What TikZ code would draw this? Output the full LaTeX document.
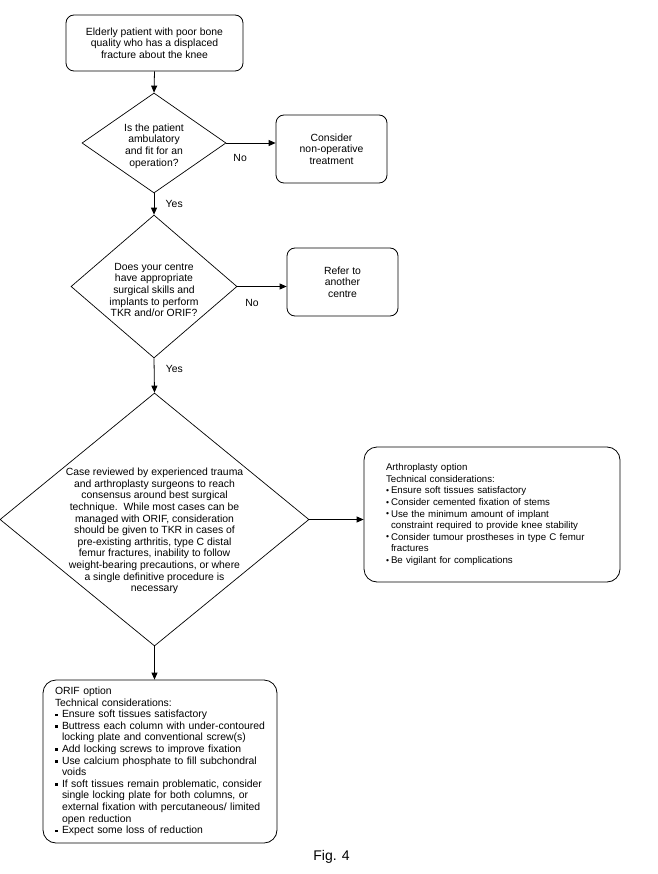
\documentclass[tikz,border=0pt]{standalone}
\usepackage{fontspec}
\setmainfont{Liberation Sans}
\usetikzlibrary{arrows.meta, positioning, shapes.geometric}

\newcommand{\bul}{\makebox[5pt][l]{\raisebox{0.3pt}{\fontsize{8.5}{8.5}\selectfont\textbullet}}}
\newcommand{\sqbul}{\makebox[7pt][l]{\rule[1.6pt]{2.6pt}{2.6pt}}}

\begin{document}
\begin{tikzpicture}[
  x=1pt, y=-1pt,
  every node/.style={font=\fontsize{10.4}{11.6}\selectfont},
  box/.style={rectangle, draw, rounded corners=8pt, line width=0.8pt, align=center, inner sep=0pt},
  bigbox/.style={rectangle, draw, rounded corners=13pt, line width=0.8pt, align=left},
  decision/.style={diamond, draw, line width=0.7pt, align=center, inner sep=0pt},
  flow/.style={line width=0.8pt, -{Triangle[length=7pt, width=6pt]}},
]
\useasboundingbox (0,0) rectangle (657,874);

\node[box, minimum width=177pt, minimum height=56pt] (start) at (154.5,43) {Elderly patient with poor bone\\quality who has a displaced\\fracture about the knee};
\node[decision, minimum width=144pt, minimum height=100pt, aspect=1.44] (fit) at (154,143) {};
\node[align=center] (fittxt) at (154,146) {Is the patient\\ambulatory\\and fit for an\\operation?};
\node[box, minimum width=111pt, minimum height=68pt] (nonop) at (331.5,149) {Consider\\non-operative\\treatment};
\node[decision, minimum width=166pt, minimum height=143pt, aspect=1.16] (skills) at (154,286.5) {};
\node[align=center] (skillstxt) at (154,290) {Does your centre\\have appropriate\\surgical skills and\\implants to perform\\TKR and/or ORIF?};
\node[box, minimum width=111pt, minimum height=68pt] (refer) at (342.5,282) {Refer to\\another\\centre};
\node[decision, minimum width=309pt, minimum height=253pt] (review) at (154.5,519.5) {};
\node[align=center] (reviewtxt) at (154.5,531) {Case reviewed by experienced trauma\\and arthroplasty surgeons to reach\\consensus around best surgical\\technique.\ \ While most cases can be\\managed with ORIF, consideration\\should be given to TKR in cases of\\pre-existing arthritis, type C distal\\femur fractures, inability to follow\\weight-bearing precautions, or where\\a single definitive procedure is\\necessary};
\node[bigbox, minimum width=256pt, minimum height=135pt, text width=212pt, inner xsep=22pt,
  font=\fontsize{9.7}{11.6}\selectfont] (arth) at (492,514.5) {Arthroplasty option\\Technical considerations:\\
\bul Ensure soft tissues satisfactory\\
\bul Consider cemented fixation of stems\\
\bul Use the minimum amount of implant\\
\hspace*{5pt}constraint required to provide knee stability\\
\bul Consider tumour prostheses in type C femur\\
\hspace*{5pt}fractures\\
\bul Be vigilant for complications};
\node[bigbox, minimum width=234pt, minimum height=163pt, text width=210pt, inner xsep=12pt] (orif) at (160,761.5) {ORIF option\\Technical considerations:\\
\sqbul Ensure soft tissues satisfactory\\
\sqbul Buttress each column with under-contoured\\
\hspace*{7pt}locking plate and conventional screw(s)\\
\sqbul Add locking screws to improve fixation\\
\sqbul Use calcium phosphate to fill subchondral\\
\hspace*{7pt}voids\\
\sqbul If soft tissues remain problematic, consider\\
\hspace*{7pt}single locking plate for both columns, or\\
\hspace*{7pt}external fixation with percutaneous/ limited\\
\hspace*{7pt}open reduction\\
\sqbul Expect some loss of reduction};
\node[font=\fontsize{14}{16}\selectfont] (fig) at (331.5,857) {Fig. 4};

% Connectors
\draw[flow] (start.south) -- (fit.north);
\draw[flow] (fit.east) -- (fit.east -| nonop.west) node[pos=0.28, below=8pt] {No};
\draw[flow] (fit.south) -- (skills.north) node[midway, right=8pt] {Yes};
\draw[flow] (skills.east) -- (skills.east -| refer.west) node[pos=0.3, below=9pt] {No};
\draw[flow] (skills.south) -- (review.north) node[pos=0.3, right=8pt] {Yes};
\draw[flow] (review.east) -- (review.east -| arth.west);
\draw[flow] (review.south) -- (review.south |- orif.north);
\end{tikzpicture}
\end{document}
